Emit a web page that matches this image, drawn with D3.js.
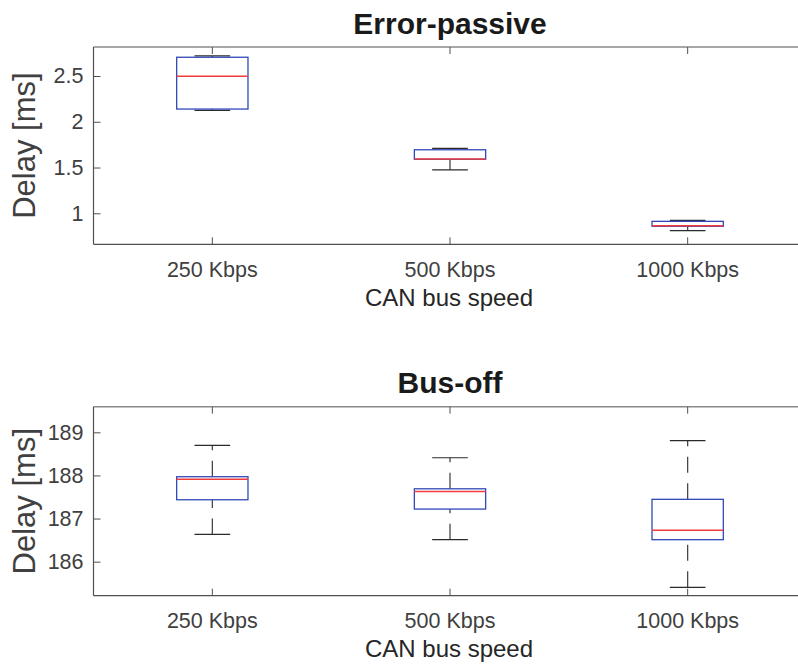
<!DOCTYPE html>
<html lang="en">
<head>
    <meta charset="UTF-8">
    <title>CAN bus delay</title>
    <script src="https://cdn.jsdelivr.net/npm/d3@7"></script>
    <style>
        body { margin: 0; background: #fff; }
        text { font-family: "Liberation Sans", Arial, sans-serif; }
    </style>
</head>
<body>

<script type="text/javascript">
    // data
    var categories = ['250 Kbps', '500 Kbps', '1000 Kbps'];

    // Error-passive box stats
    var epMin    = [2.125, 1.475, 0.810];
    var epQ1     = [2.139, 1.590, 0.858];
    var epMedian = [2.497, 1.594, 0.864];
    var epQ3     = [2.705, 1.694, 0.912];
    var epMax    = [2.719, 1.709, 0.923];
    var epTicks  = [1, 1.5, 2, 2.5];

    // Bus-off box stats
    var boMin    = [186.633, 186.510, 185.406];
    var boQ1     = [187.436, 187.220, 186.510];
    var boMedian = [187.910, 187.630, 186.730];
    var boQ3     = [187.970, 187.690, 187.446];
    var boMax    = [188.698, 188.410, 188.806];
    var boTicks  = [186, 187, 188, 189];

    // canvas
    var width = 798;
    var height = 667;
    var svg = d3.select('body')
            .append('svg')
            .attr('width', width)
            .attr('height', height);

    // x: MATLAB style xlim [0.5, 3.5], runs past the right edge of the picture
    var left = 93.5, right = 806.5;
    var xScale = d3.scaleBand()
            .domain(categories)
            .range([left, right])
            .padding(0);
    var bw = xScale.bandwidth();
    var boxW = bw * 0.3;

    function drawPanel(opt) {
        var top = opt.top, bottom = opt.bottom;
        var yScale = d3.scaleLinear()
                .domain(opt.domain)
                .range([bottom, top]);

        var g = svg.append('g');

        // axes frame
        g.append('line')
                .attr('x1', left).attr('x2', right)
                .attr('y1', top).attr('y2', top)
                .attr('stroke', '#8a8a8a').attr('stroke-width', 1.5);
        g.append('line')
                .attr('x1', left).attr('x2', left)
                .attr('y1', top).attr('y2', bottom)
                .attr('stroke', '#505050').attr('stroke-width', 1.2);
        g.append('line')
                .attr('x1', left).attr('x2', right)
                .attr('y1', bottom).attr('y2', bottom)
                .attr('stroke', '#505050').attr('stroke-width', 1.2);

        // y axis (ticks inward)
        var yAxis = d3.axisLeft(yScale)
                .tickValues(opt.ticks)
                .tickSize(-7)
                .tickPadding(10)
                .tickFormat(d3.format('~g'));
        var ya = g.append('g')
                .attr('transform', 'translate(' + left + ',0)')
                .call(yAxis);
        ya.select('.domain').remove();
        ya.selectAll('line').attr('stroke', '#505050');
        ya.selectAll('text')
                .attr('fill', '#404040')
                .style('font-size', '21.5px');

        // x axis ticks inward at bottom and top
        var xAxis = d3.axisBottom(xScale)
                .tickSize(-7)
                .tickPadding(17);
        var xa = g.append('g')
                .attr('transform', 'translate(0,' + bottom + ')')
                .call(xAxis);
        xa.select('.domain').remove();
        xa.selectAll('line').attr('stroke', '#505050');
        xa.selectAll('text')
                .attr('fill', '#404040')
                .attr('dy', '0')
                .attr('y', 32.5)
                .style('font-size', '21.5px');

        var xTop = d3.axisTop(xScale).tickSize(-7).tickFormat('');
        var xt = g.append('g')
                .attr('transform', 'translate(0,' + top + ')')
                .call(xTop);
        xt.select('.domain').remove();
        xt.selectAll('line').attr('stroke', '#505050');

        // boxes
        var rows = categories.map(function (c, i) {
            return {c: c, min: opt.min[i], q1: opt.q1[i], med: opt.median[i], q3: opt.q3[i], max: opt.max[i]};
        });
        var cx = function (d) { return xScale(d.c) + bw / 2; };

        var boxes = g.selectAll('.box').data(rows).enter().append('g').attr('class', 'box');

        // upper whisker, drawn from box upward
        boxes.append('line')
                .attr('x1', cx).attr('x2', cx)
                .attr('y1', function (d) { return yScale(d.q3); })
                .attr('y2', function (d) { return yScale(d.max); })
                .attr('stroke', '#3a3a3a').attr('stroke-width', 1.2)
                .attr('stroke-dasharray', '16,10.5');
        // lower whisker, drawn from min upward
        boxes.append('line')
                .attr('x1', cx).attr('x2', cx)
                .attr('y1', function (d) { return yScale(d.min); })
                .attr('y2', function (d) { return yScale(d.q1); })
                .attr('stroke', '#3a3a3a').attr('stroke-width', 1.2)
                .attr('stroke-dasharray', '16,10.5');
        // caps
        ['min', 'max'].forEach(function (k) {
            boxes.append('line')
                    .attr('x1', function (d) { return cx(d) - boxW / 4; })
                    .attr('x2', function (d) { return cx(d) + boxW / 4; })
                    .attr('y1', function (d) { return yScale(d[k]); })
                    .attr('y2', function (d) { return yScale(d[k]); })
                    .attr('stroke', '#2a2a2a').attr('stroke-width', 1.2);
        });
        // box
        boxes.append('rect')
                .attr('x', function (d) { return cx(d) - boxW / 2; })
                .attr('y', function (d) { return yScale(d.q3); })
                .attr('width', boxW)
                .attr('height', function (d) { return yScale(d.q1) - yScale(d.q3); })
                .attr('fill', 'none')
                .attr('stroke', '#3048b8').attr('stroke-width', 1.3);
        // median
        boxes.append('line')
                .attr('x1', function (d) { return cx(d) - boxW / 2; })
                .attr('x2', function (d) { return cx(d) + boxW / 2; })
                .attr('y1', function (d) { return yScale(d.med); })
                .attr('y2', function (d) { return yScale(d.med); })
                .attr('stroke', '#f03c3c').attr('stroke-width', 1.5);

        // title
        g.append('text')
                .attr('x', 450).attr('y', top - 13.5)
                .attr('text-anchor', 'middle')
                .attr('fill', '#1a1a1a')
                .style('font-size', '30px').style('font-weight', 'bold')
                .text(opt.title);
        // x label
        g.append('text')
                .attr('x', 449).attr('y', bottom + 61.5)
                .attr('text-anchor', 'middle')
                .attr('fill', '#262626')
                .style('font-size', '24px')
                .text('CAN bus speed');
        // y label
        g.append('text')
                .attr('transform', 'translate(34.5,' + ((top + bottom) / 2) + ') rotate(-90)')
                .attr('text-anchor', 'middle')
                .attr('fill', '#404040')
                .style('font-size', '31px')
                .text('Delay [ms]');
    }

    drawPanel({
        title: 'Error-passive', top: 47, bottom: 244.3, domain: [0.661, 2.817], ticks: epTicks,
        min: epMin, q1: epQ1, median: epMedian, q3: epQ3, max: epMax
    });
    drawPanel({
        title: 'Bus-off', top: 406.7, bottom: 595.7, domain: [185.211, 189.594], ticks: boTicks,
        min: boMin, q1: boQ1, median: boMedian, q3: boQ3, max: boMax
    });
</script>
</body>
</html>
